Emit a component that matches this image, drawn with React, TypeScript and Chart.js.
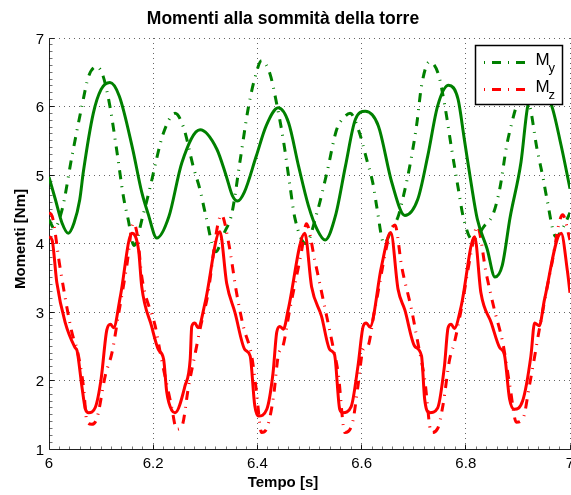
import { useEffect, useRef } from "react";
import { Chart, registerables } from "chart.js";

Chart.register(...registerables);

const GREEN = "#008000";
const RED = "#ff0000";

// [tempo (s), momento (Nm)]
const MY_SOLID: [number, number][] = [
  [6.0, 4.97], [6.012, 4.65], [6.025, 4.3], [6.037, 4.15], [6.048, 4.3], [6.059, 4.64],
  [6.066, 5.05], [6.085, 5.9], [6.1, 6.25], [6.117, 6.35], [6.135, 6.15], [6.16, 5.4],
  [6.178, 4.75], [6.19, 4.44], [6.207, 4.08], [6.23, 4.39], [6.255, 5.18], [6.29, 5.66],
  [6.322, 5.38], [6.34, 4.99], [6.352, 4.7], [6.362, 4.62], [6.375, 4.75], [6.398, 5.28],
  [6.417, 5.72], [6.44, 5.98], [6.46, 5.76], [6.479, 5.13], [6.498, 4.55], [6.515, 4.2],
  [6.53, 4.05], [6.55, 4.41], [6.569, 5.13], [6.588, 5.81], [6.607, 5.93], [6.632, 5.72],
  [6.658, 4.89], [6.683, 4.41], [6.708, 4.65], [6.727, 5.28], [6.746, 6.01], [6.767, 6.31],
  [6.785, 6.11], [6.797, 5.53], [6.81, 4.89], [6.822, 4.36], [6.841, 3.92], [6.856, 3.51],
  [6.87, 3.68], [6.885, 4.38], [6.906, 5.19], [6.919, 6.01], [6.94, 6.25], [6.964, 6.03],
  [6.983, 5.43], [7.0, 4.8],
];

const MY_DASH: [number, number][] = [
  [6.0, 4.35], [6.01, 4.22], [6.025, 4.49], [6.044, 5.27], [6.063, 6.0], [6.076, 6.44],
  [6.092, 6.58], [6.104, 6.44], [6.117, 6.0], [6.13, 5.36], [6.143, 4.68], [6.152, 4.35],
  [6.163, 3.97], [6.18, 4.4], [6.195, 4.85], [6.206, 5.22], [6.219, 5.6], [6.242, 5.9],
  [6.258, 5.7], [6.277, 5.12], [6.29, 4.78], [6.3, 4.44], [6.32, 3.88], [6.336, 4.15],
  [6.351, 4.44], [6.367, 5.22], [6.383, 6.0], [6.396, 6.44], [6.408, 6.67], [6.424, 6.48],
  [6.437, 6.04], [6.45, 5.5], [6.462, 4.87], [6.472, 4.37], [6.493, 4.0], [6.514, 4.44],
  [6.533, 5.02], [6.552, 5.66], [6.565, 5.83], [6.578, 5.9], [6.594, 5.66], [6.61, 5.22],
  [6.623, 4.83], [6.629, 4.54], [6.643, 4.0], [6.66, 4.25], [6.67, 4.39], [6.682, 4.75],
  [6.693, 5.15], [6.706, 5.75], [6.715, 6.3], [6.73, 6.65], [6.747, 6.48], [6.76, 6.0],
  [6.773, 5.37], [6.786, 4.78], [6.795, 4.39], [6.813, 4.05], [6.835, 4.25], [6.853, 4.44],
  [6.866, 4.83], [6.878, 5.41], [6.888, 5.75], [6.898, 6.02], [6.91, 6.15], [6.923, 6.0],
  [6.936, 5.41], [6.949, 4.93], [6.955, 4.68], [6.973, 4.1], [6.988, 4.25], [7.0, 4.45],
];

const MZ_SOLID: [number, number][] = [
  [6.0, 4.1], [6.006, 4.05], [6.015, 3.43], [6.031, 2.85], [6.05, 2.48], [6.054, 2.43],
  [6.063, 1.92], [6.07, 1.58], [6.076, 1.53], [6.089, 1.61], [6.1, 2.02], [6.111, 2.74],
  [6.118, 2.82], [6.124, 2.77], [6.137, 3.23], [6.159, 4.15], [6.172, 3.9], [6.178, 3.37],
  [6.197, 2.79], [6.21, 2.45], [6.22, 2.31], [6.226, 1.83], [6.236, 1.56], [6.242, 1.53],
  [6.261, 1.92], [6.271, 2.31], [6.274, 2.79], [6.28, 2.84], [6.286, 2.77], [6.3, 3.15],
  [6.328, 4.17], [6.341, 3.42], [6.357, 2.99], [6.376, 2.45], [6.386, 2.36], [6.395, 1.63],
  [6.402, 1.48], [6.418, 1.58], [6.43, 2.11], [6.437, 2.7], [6.443, 2.79], [6.45, 2.75],
  [6.459, 3.03], [6.491, 4.15], [6.504, 3.37], [6.523, 2.94], [6.539, 2.45], [6.548, 2.38],
  [6.558, 1.58], [6.564, 1.53], [6.58, 1.62], [6.593, 2.21], [6.603, 2.79], [6.609, 2.84],
  [6.616, 2.78], [6.638, 3.66], [6.656, 4.16], [6.67, 3.33], [6.683, 3.03], [6.702, 2.5],
  [6.715, 2.36], [6.721, 1.73], [6.73, 1.53], [6.746, 1.6], [6.759, 2.21], [6.766, 2.77],
  [6.772, 2.82], [6.778, 2.76], [6.791, 3.08], [6.817, 4.1], [6.829, 3.28], [6.849, 2.84],
  [6.865, 2.48], [6.874, 2.38], [6.884, 1.73], [6.893, 1.58], [6.909, 1.7], [6.925, 2.36],
  [6.932, 2.84], [6.941, 2.8], [6.951, 3.18], [6.983, 4.15], [6.995, 3.6], [7.0, 3.28],
];

const MZ_DASH: [number, number][] = [
  [6.0, 4.45], [6.006, 4.4], [6.021, 3.66], [6.044, 2.7], [6.054, 2.45], [6.066, 1.92],
  [6.073, 1.39], [6.082, 1.36], [6.092, 1.45], [6.108, 2.07], [6.121, 2.41], [6.134, 2.99],
  [6.149, 3.66], [6.162, 4.3], [6.17, 4.1], [6.178, 3.52], [6.204, 2.79], [6.216, 2.31],
  [6.235, 1.63], [6.245, 1.29], [6.255, 1.33], [6.268, 1.92], [6.281, 2.41], [6.291, 2.79],
  [6.303, 3.18], [6.331, 4.42], [6.345, 4.0], [6.36, 3.28], [6.373, 2.79], [6.389, 2.36],
  [6.398, 1.85], [6.408, 1.24], [6.418, 1.3], [6.431, 1.77], [6.44, 2.36], [6.449, 2.5],
  [6.462, 3.03], [6.485, 3.9], [6.494, 4.29], [6.51, 3.76], [6.529, 3.08], [6.545, 2.5],
  [6.555, 2.11], [6.568, 1.24], [6.583, 1.4], [6.593, 1.92], [6.603, 2.45], [6.612, 2.5],
  [6.625, 3.03], [6.664, 4.27], [6.677, 3.66], [6.696, 3.03], [6.708, 2.55], [6.721, 2.02],
  [6.734, 1.24], [6.746, 1.3], [6.756, 1.63], [6.769, 2.31], [6.778, 2.55], [6.791, 3.03],
  [6.81, 3.86], [6.822, 4.25], [6.839, 3.57], [6.855, 3.03], [6.871, 2.55], [6.885, 1.9],
  [6.897, 1.39], [6.91, 1.45], [6.922, 1.92], [6.931, 2.3], [6.941, 2.74], [6.964, 3.66],
  [6.986, 4.42], [7.0, 4.05],
];

const X_MIN = 6;
const X_MAX = 7;
const Y_MIN = 1;
const Y_MAX = 7;
const X_TICKS = [6, 6.2, 6.4, 6.6, 6.8, 7];
const X_TICK_LABELS = ["6", "6.2", "6.4", "6.6", "6.8", "7"];
const Y_TICKS = [1, 2, 3, 4, 5, 6, 7];
const Y_TICK_LABELS = ["1", "2", "3", "4", "5", "6", "7"];
const X_MINOR_STEP = 0.02;
const Y_MINOR_STEP = 0.1;

const TITLE = "Momenti alla sommità della torre";
const X_TITLE = "Tempo [s]";
const Y_TITLE = "Momenti [Nm]";
const LEGEND_ITEMS = [
  { main: "M", sub: "y", color: GREEN },
  { main: "M", sub: "z", color: RED },
];

const FONT = "'Liberation Sans', Arial, Helvetica, sans-serif";
const DASH_DOT = [9, 7, 1, 7];

const px = (v: number) => Math.floor(v) + 0.5;

const matlabPlugin = {
  id: "matlabAxes",
  beforeDatasetsDraw(chart: any) {
    const { ctx, chartArea: a, scales } = chart;
    const xs = scales.x;
    const ys = scales.y;
    ctx.save();
    // dotted grid
    ctx.strokeStyle = "rgba(0,0,0,0.6)";
    ctx.lineWidth = 1;
    ctx.setLineDash([1, 4]);
    ctx.beginPath();
    for (const v of Y_TICKS) {
      if (v === Y_MIN) continue;
      const p = px(ys.getPixelForValue(v));
      ctx.moveTo(a.left, p);
      ctx.lineTo(a.right + 1, p);
    }
    for (const v of X_TICKS) {
      if (v === X_MIN) continue;
      const p = px(xs.getPixelForValue(v));
      ctx.moveTo(p, a.bottom);
      ctx.lineTo(p, a.top);
    }
    ctx.stroke();
    ctx.setLineDash([]);
    // axes
    ctx.strokeStyle = "#222";
    ctx.beginPath();
    const lx = px(a.left);
    const by = px(a.bottom);
    ctx.moveTo(lx, a.top);
    ctx.lineTo(lx, by);
    ctx.lineTo(a.right + 1, by);
    // major ticks
    for (const v of Y_TICKS) {
      const p = px(ys.getPixelForValue(v));
      ctx.moveTo(lx, p);
      ctx.lineTo(lx + 5, p);
    }
    for (const v of X_TICKS) {
      const p = px(xs.getPixelForValue(v));
      ctx.moveTo(p, by);
      ctx.lineTo(p, by - 5);
    }
    ctx.stroke();
    // minor ticks
    ctx.strokeStyle = "rgba(0,0,0,0.55)";
    ctx.beginPath();
    const ny = Math.round((Y_MAX - Y_MIN) / Y_MINOR_STEP);
    for (let i = 1; i < ny; i++) {
      const p = px(ys.getPixelForValue(Y_MIN + i * Y_MINOR_STEP));
      ctx.moveTo(lx, p);
      ctx.lineTo(lx + 3, p);
    }
    const nx = Math.round((X_MAX - X_MIN) / X_MINOR_STEP);
    for (let i = 1; i < nx; i++) {
      const p = px(xs.getPixelForValue(X_MIN + i * X_MINOR_STEP));
      ctx.moveTo(p, by);
      ctx.lineTo(p, by - 3);
    }
    ctx.stroke();
    ctx.restore();
  },
  afterDraw(chart: any) {
    const { ctx, chartArea: a, scales } = chart;
    const xs = scales.x;
    const ys = scales.y;
    ctx.save();
    ctx.fillStyle = "#000";
    // tick labels
    ctx.font = `15px ${FONT}`;
    ctx.textBaseline = "alphabetic";
    ctx.textAlign = "right";
    Y_TICKS.forEach((v, i) => {
      const p = ys.getPixelForValue(v);
      ctx.fillText(Y_TICK_LABELS[i], a.left - 5, p + 5.5);
    });
    ctx.textAlign = "center";
    X_TICKS.forEach((v, i) => {
      const p = xs.getPixelForValue(v);
      ctx.fillText(X_TICK_LABELS[i], p, a.bottom + 19);
    });
    // titles
    ctx.font = `bold 17.5px ${FONT}`;
    ctx.fillText(TITLE, 283, 24);
    ctx.font = `bold 15px ${FONT}`;
    ctx.fillText(X_TITLE, 283, 487);
    ctx.save();
    ctx.translate(25, 239);
    ctx.rotate(-Math.PI / 2);
    ctx.fillText(Y_TITLE, 0, 0);
    ctx.restore();
    // legend
    const bx = 475.5, byy = 45.5, bw = 87, bh = 59;
    ctx.fillStyle = "#fff";
    ctx.fillRect(bx, byy, bw, bh);
    ctx.strokeStyle = "#000";
    ctx.lineWidth = 1.5;
    ctx.strokeRect(bx, byy, bw, bh);
    LEGEND_ITEMS.forEach((it, i) => {
      const ly = 62.5 + i * 27;
      ctx.save();
      ctx.strokeStyle = it.color;
      ctx.lineWidth = 3;
      ctx.lineCap = "butt";
      ctx.setLineDash([1, 7, 9, 7]);
      ctx.beginPath();
      ctx.moveTo(484, ly);
      ctx.lineTo(525, ly);
      ctx.stroke();
      ctx.restore();
      ctx.fillStyle = "#000";
      ctx.textAlign = "left";
      ctx.font = `17px ${FONT}`;
      ctx.fillText(it.main, 535.5, ly + 2);
      ctx.font = `13px ${FONT}`;
      ctx.fillText(it.sub, 548.5, ly + 9);
    });
    ctx.restore();
  },
};

function toPts(arr: [number, number][]) {
  return arr.map(([x, y]) => ({ x, y }));
}

export default function App() {
  const ref = useRef<HTMLCanvasElement | null>(null);
  useEffect(() => {
    if (!ref.current) return;
    const common = {
      pointRadius: 0,
      borderWidth: 3,
      fill: false,
      cubicInterpolationMode: "monotone" as const,
      borderJoinStyle: "round" as const,
    };
    const chart = new Chart(ref.current, {
      type: "line",
      data: {
        datasets: [
          { ...common, label: "Mz solid", data: toPts(MZ_SOLID), borderColor: RED },
          { ...common, label: "My solid", data: toPts(MY_SOLID), borderColor: GREEN },
          { ...common, label: "Mz", data: toPts(MZ_DASH), borderColor: RED, borderDash: DASH_DOT },
          { ...common, label: "My", data: toPts(MY_DASH), borderColor: GREEN, borderDash: DASH_DOT },
        ],
      },
      options: {
        responsive: false,
        animation: false,
        devicePixelRatio: 1,
        layout: { padding: { left: 49, right: 1, top: 38, bottom: 46 } },
        plugins: { legend: { display: false }, tooltip: { enabled: false }, title: { display: false } },
        scales: {
          x: { type: "linear", min: X_MIN, max: X_MAX, display: false },
          y: { type: "linear", min: Y_MIN, max: Y_MAX, display: false },
        },
      },
      plugins: [matlabPlugin],
    });
    return () => chart.destroy();
  }, []);
  return (
    <div style={{ position: "absolute", left: 0, top: 0, width: 571, height: 495, background: "#fff", overflow: "hidden" }}>
      <canvas ref={ref} width={571} height={495} style={{ display: "block" }} />
    </div>
  );
}
